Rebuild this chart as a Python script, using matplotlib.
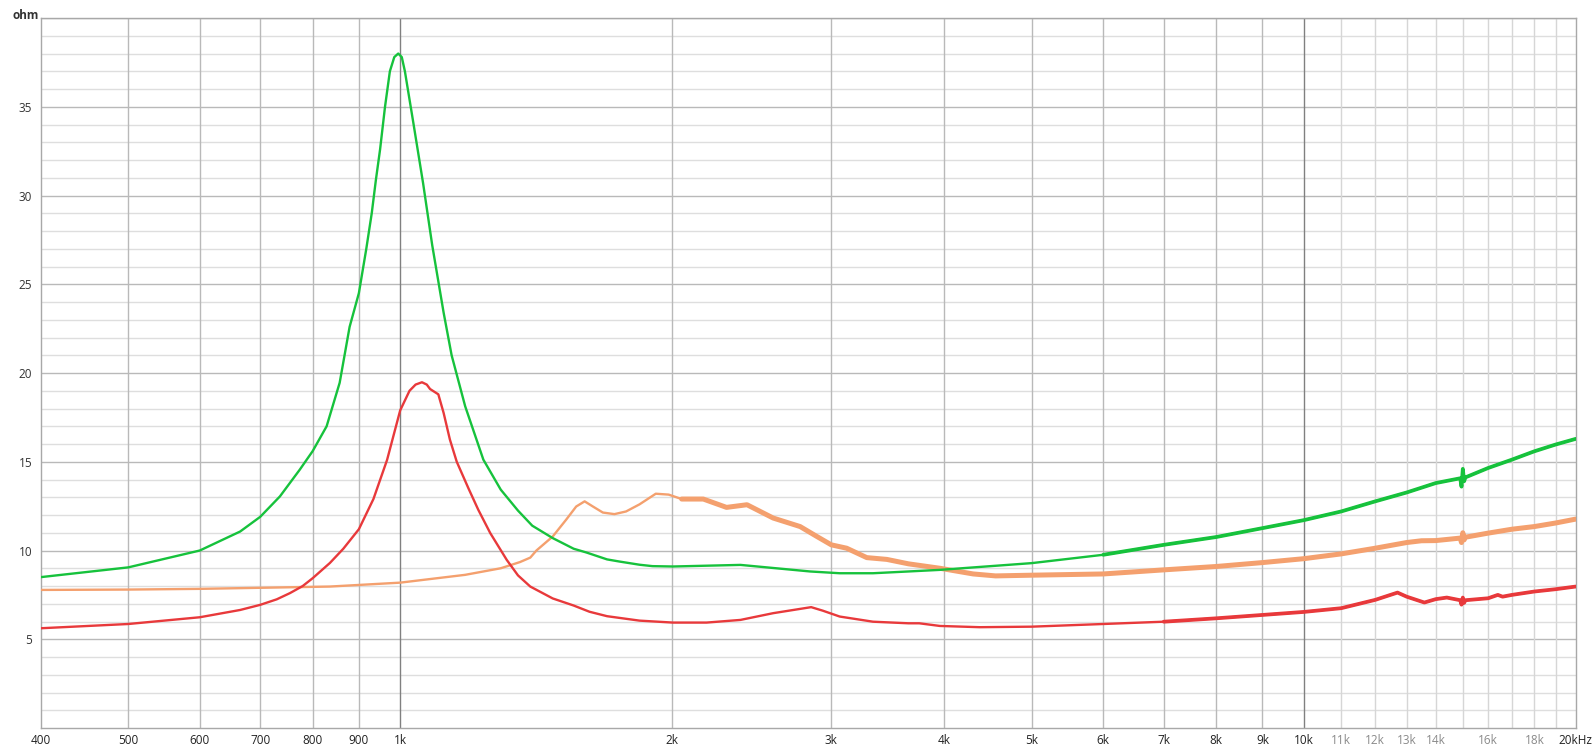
import numpy as np
import matplotlib.pyplot as plt
from matplotlib.ticker import FixedLocator, NullFormatter

# impedance curves (Hz, ohm)
green_f = [400, 500, 600, 665, 700, 736, 774, 800, 829, 857, 879, 900, 917, 930, 940, 950,
           962, 974, 985, 995, 1004, 1012, 1034, 1060, 1085, 1117, 1140, 1180, 1236, 1292,
           1350, 1400, 1475, 1556, 1607, 1694, 1748, 1840, 1902, 2004, 2380, 2842, 3065,
           3336, 3652, 3957, 5000, 6000, 7000, 8000, 9000, 10000, 11000, 12000, 13000,
           14000, 14900, 14950, 15000, 15050, 15100, 16000, 17000, 18000, 19000, 20000]
green_z = [8.5, 9.05, 10.0, 11.07, 11.9, 13.05, 14.55, 15.6, 17.0, 19.45, 22.6, 24.5, 26.97,
           29.0, 30.9, 32.6, 35.0, 37.0, 37.8, 38.0, 37.8, 37.0, 34.1, 30.7, 27.2, 23.4, 21.0,
           18.13, 15.12, 13.43, 12.25, 11.4, 10.7, 10.1, 9.89, 9.5, 9.38, 9.2, 9.12, 9.1,
           9.19, 8.82, 8.72, 8.72, 8.82, 8.91, 9.29, 9.76, 10.32, 10.76, 11.26, 11.71, 12.2,
           12.77, 13.27, 13.8, 14.07, 13.6, 14.6, 13.9, 14.12, 14.65, 15.12, 15.59, 15.97,
           16.29]

orange_f = [400, 500, 600, 700, 836, 1000, 1180, 1292, 1357, 1393, 1415, 1475, 1526, 1566,
            1600, 1634, 1676, 1726, 1778, 1840, 1918, 1982, 2049, 2128, 2165, 2297, 2420,
            2587, 2771, 2892, 3000, 3120, 3284, 3456, 3652, 3957, 4307, 4560, 5000, 6000,
            7000, 8000, 9000, 10000, 11000, 12000, 13000, 13500, 14000, 14900, 14950, 15000,
            15050, 15100, 16000, 17000, 18000, 19000, 20000]
orange_z = [7.78, 7.8, 7.84, 7.9, 7.97, 8.19, 8.63, 9.0, 9.35, 9.6, 10.0, 10.79, 11.73, 12.48,
            12.77, 12.48, 12.14, 12.05, 12.2, 12.6, 13.2, 13.15, 12.9, 12.9, 12.9, 12.43, 12.58,
            11.83, 11.35, 10.79, 10.32, 10.13, 9.6, 9.5, 9.25, 9.0, 8.68, 8.57, 8.61, 8.68,
            8.91, 9.1, 9.32, 9.54, 9.81, 10.13, 10.45, 10.55, 10.56, 10.7, 10.45, 11.0, 10.6,
            10.75, 10.98, 11.2, 11.35, 11.55, 11.77]

red_f = [400, 500, 600, 665, 700, 730, 755, 780, 800, 836, 865, 900, 934, 967, 1000, 1024,
         1040, 1057, 1070, 1079, 1102, 1117, 1135, 1155, 1190, 1220, 1258, 1312, 1350, 1393,
         1475, 1556, 1620, 1694, 1840, 2004, 2183, 2380, 2587, 2850, 2936, 3065, 3336, 3652,
         3754, 3957, 4380, 5000, 6000, 7000, 8000, 9000, 10000, 11000, 12000, 12700, 13000,
         13600, 14000, 14400, 14900, 14950, 15000, 15050, 15100, 16000, 16400, 16600, 17000,
         18000, 19000, 20000]
red_z = [5.62, 5.86, 6.24, 6.65, 6.94, 7.25, 7.6, 8.0, 8.44, 9.3, 10.1, 11.2, 12.9, 15.1, 17.9,
         19.0, 19.35, 19.48, 19.35, 19.1, 18.8, 17.75, 16.25, 15.0, 13.5, 12.3, 10.98, 9.47,
         8.6, 7.97, 7.3, 6.9, 6.55, 6.3, 6.05, 5.94, 5.94, 6.09, 6.47, 6.81, 6.61, 6.28, 5.99,
         5.9, 5.9, 5.75, 5.68, 5.71, 5.86, 5.99, 6.18, 6.37, 6.54, 6.75, 7.22, 7.63, 7.4, 7.07,
         7.26, 7.35, 7.2, 6.95, 7.35, 7.05, 7.2, 7.31, 7.5, 7.4, 7.5, 7.69, 7.82, 7.97]

x_ticks = [400, 500, 600, 700, 800, 900, 1000, 2000, 3000, 4000, 5000, 6000, 7000, 8000,
           9000, 10000, 11000, 12000, 13000, 14000, 16000, 18000, 20000]
x_labels = ['400', '500', '600', '700', '800', '900', '1k', '2k', '3k', '4k', '5k', '6k',
            '7k', '8k', '9k', '10k', '11k', '12k', '13k', '14k', '16k', '18k', '20kHz']
y_ticks = [5, 10, 15, 20, 25, 30, 35]

plt.rcParams['font.family'] = ['Open Sans', 'DejaVu Sans']

fig = plt.figure(figsize=(15.95, 7.52), dpi=100)
ax = fig.add_axes([0.0255, 0.0319, 0.9624, 0.9441])
ax.set_xscale('log')
ax.set_xlim(400, 20000)
ax.set_ylim(0, 40)

# grid lines
for y in range(1, 40):
    c = '#b9b9b9' if y % 5 == 0 else '#dedede'
    ax.axhline(y, color=c, lw=1, zorder=0)
ax.axhline(40, color='#b9b9b9', lw=1, zorder=0)
for f in [500, 600, 700, 800, 900] + list(range(2000, 10000, 1000)):
    ax.axvline(f, color='#b9b9b9', lw=1, zorder=0)
for f in range(11000, 20000, 1000):
    ax.axvline(f, color='#d6d6d6', lw=1, zorder=0)
for f in [1000, 10000]:
    ax.axvline(f, color='#808080', lw=1, zorder=0)

# curves (thicker where the measurement gets noisy)
def draw(fx, zx, color, split, lw_hi):
    fx = np.array(fx)
    zx = np.array(zx)
    ax.plot(fx, zx, color=color, lw=1.7, solid_joinstyle='round', zorder=3)
    m = fx >= split
    ax.plot(fx[m], zx[m], color=color, lw=lw_hi, solid_capstyle='round',
            solid_joinstyle='round', zorder=3)

draw(orange_f, orange_z, '#f4a06e', 2000, 3.6)
draw(red_f, red_z, '#e8393b', 7000, 2.7)
draw(green_f, green_z, '#16c23c', 6000, 2.7)

ax.xaxis.set_major_locator(FixedLocator(x_ticks))
ax.set_xticklabels(x_labels)
ax.xaxis.set_minor_formatter(NullFormatter())
ax.xaxis.set_minor_locator(FixedLocator([]))
for lab, f in zip(ax.get_xticklabels(), x_ticks):
    lab.set_color('#8a8a8a' if 11000 <= f <= 18000 else '#222222')
ax.set_yticks(y_ticks)
ax.tick_params(axis='both', length=0, labelsize=8.5, pad=4)
ax.tick_params(axis='y', colors='#333333', pad=6)

for s in ax.spines.values():
    s.set_color('#a8a8a8')
    s.set_linewidth(1)

fig.text(0.008, 0.98, 'ohm', fontsize=8.5, fontweight='bold', color='#333333', va='center')

fig.savefig('out.png', dpi=100)
